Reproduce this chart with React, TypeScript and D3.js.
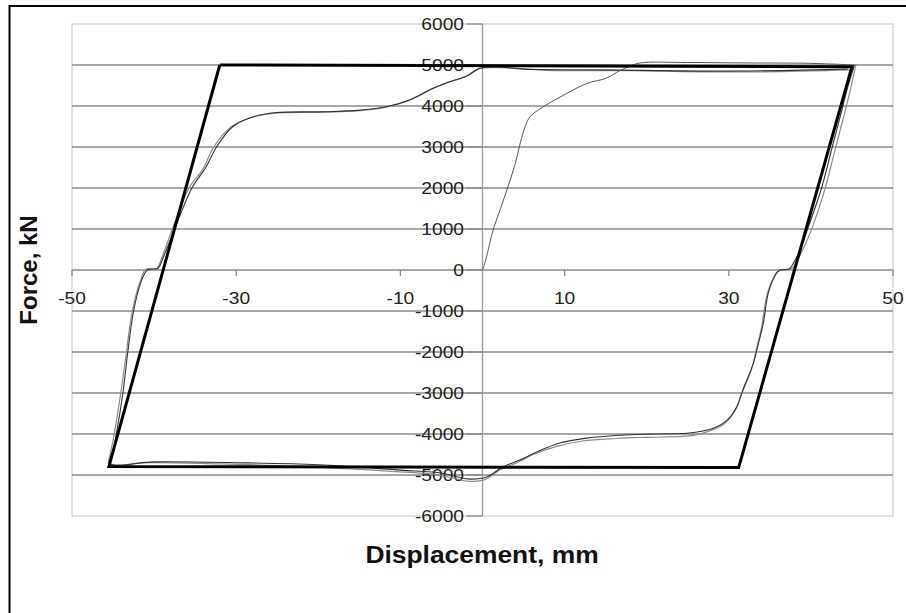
import * as d3 from 'd3'

// axis ticks
const dispTicks = [-50, -30, -10, 10, 30, 50]
const forceTicks = [-6000, -5000, -4000, -3000, -2000, -1000, 0, 1000, 2000, 3000, 4000, 5000, 6000]

// bilinear model (thick loop)
const modelDisp = [-32, 45, 31.2, -45.5, -32]
const modelForce = [5000, 4960, -4820, -4790, 5000]

// test: first loading from origin
const initDisp = [0, 0.4, 1.3, 2.2, 3.1, 4.0, 4.6, 5.2, 5.8, 7.4, 10.3, 12.7, 15.1, 16.7, 17.8, 19.2, 25, 32, 40, 45.3]
const initForce = [0, 250, 980, 1500, 2030, 2600, 3100, 3500, 3740, 3980, 4310, 4550, 4680, 4860, 4960, 5050, 5060, 5050, 5040, 5000]

// test: cycle 1
const cyc1Disp = [45.3, 45.0, 44.4, 43.9, 42.6, 41.3, 39.6, 38.7, 37.6, 37.3, 36.2, 35.6, 34.8, 34.2, 33.6, 33.0, 31.7, 31.0, 29.8, 28.1, 26.5, 24.9, 20.8, 16.7, 12.7, 9.4, 6.6, 4.6, 2.5, 0.5, -1.5, -3, -5, -10, -20, -30, -40, -45.3, -45.0, -44.6, -43.8, -43.2, -42.5, -41.5, -40.8, -39.5, -38.9, -37.5, -35.4, -33.7, -32.4, -30.4, -27.9, -25.1, -19, -14.9, -11.7, -8.8, -6, -4, -1.9, -0.3, 2, 5, 15, 30, 44.5]
const cyc1Force = [5000, 4800, 4400, 4000, 3000, 2000, 1000, 500, 80, 20, 0, -150, -570, -1300, -1800, -2270, -2930, -3330, -3660, -3860, -3940, -3980, -4000, -4030, -4100, -4220, -4440, -4630, -4800, -5050, -5100, -5050, -4950, -4880, -4750, -4700, -4680, -4720, -4400, -4000, -3000, -2000, -1000, -240, 0, 50, 300, 1000, 2000, 2500, 3000, 3500, 3740, 3840, 3860, 3900, 3980, 4150, 4430, 4590, 4730, 4920, 4950, 4900, 4880, 4850, 4900]

// test: cycle 2
const cyc2Disp = [45.5, 45.2, 44.7, 44.2, 42.9, 41.6, 39.9, 38.9, 37.8, 37.0, 36.0, 35.4, 34.6, 34.0, 33.4, 32.8, 31.5, 30.7, 29.4, 27.6, 26.0, 24.2, 20.2, 16.2, 12.2, 9.0, 6.2, 4.2, 2.1, 0.2, -1.8, -3.5, -6, -12, -22, -32, -41, -45.5, -45.3, -44.9, -44.1, -43.4, -42.7, -41.7, -41.0, -39.7, -39.1, -37.8, -35.8, -34.0, -32.8, -30.7, -28.2, -25.5, -19.5, -15.3, -12.0, -9.2, -6.4, -4.3, -2.2, -0.6, 3, 8, 18, 32, 45]
const cyc2Force = [5020, 4750, 4300, 3900, 2900, 1900, 900, 450, 60, 10, -30, -200, -650, -1400, -1900, -2400, -3050, -3450, -3760, -3930, -4020, -4060, -4080, -4110, -4170, -4300, -4500, -4700, -4880, -5120, -5150, -5080, -4980, -4900, -4790, -4730, -4700, -4760, -4450, -4050, -3050, -2050, -1050, -280, 20, 30, 280, 980, 1980, 2480, 2980, 3480, 3720, 3820, 3850, 3880, 3960, 4120, 4400, 4570, 4700, 4900, 4930, 4870, 4860, 4830, 4880]

const W = 906
const H = 613
const font = 'Liberation Sans, Arial, sans-serif'

export default function App() {
  const x = d3.scaleLinear().domain([-50, 50]).range([72, 893])
  const y = d3.scaleLinear().domain([-6000, 6000]).range([516, 24])

  const line = d3.line<[number, number]>()
    .x(d => x(d[0]))
    .y(d => y(d[1]))
  const smooth = d3.line<[number, number]>()
    .x(d => x(d[0]))
    .y(d => y(d[1]))
    .curve(d3.curveCatmullRom.alpha(0.5))
  const pts = (xs: number[], ys: number[]) => xs.map((v, i) => [v, ys[i]] as [number, number])

  const x0 = x(0)
  const y0 = y(0)

  return (
    <svg width={W} height={H} style={{ position: 'absolute', left: 0, top: 0, background: '#fff' }}>
      {/* outer frame */}
      <path d={`M9.5,${H + 5}V6H${W + 5}`} fill="none" stroke="#000" strokeWidth={2} />

      {/* plot border */}
      <rect x={x(-50)} y={y(6000)} width={x(50) - x(-50)} height={y(-6000) - y(6000)}
        fill="none" stroke="#cfcfcf" strokeWidth={1.2} />

      {/* gridlines */}
      {forceTicks.filter(t => Math.abs(t) < 6000).map(t => (
        <line key={t} x1={x(-50)} x2={x(50)} y1={y(t)} y2={y(t)} stroke="#8a8a8a" strokeWidth={1.3} />
      ))}

      {/* y axis at x = 0 */}
      <line x1={x0} x2={x0} y1={y(6000)} y2={y(-6000)} stroke="#9a9a9a" strokeWidth={1.3} />
      {forceTicks.map(t => (
        <line key={'yt' + t} x1={x0 - 16} x2={x0} y1={y(t)} y2={y(t)} stroke="#8a8a8a" strokeWidth={1.3} />
      ))}
      {forceTicks.map(t => (
        <text key={'yl' + t} transform={`translate(464,${y(t)}) scale(1.2,1)`} textAnchor="end" dy="0.36em"
          fontFamily={font} fontSize={16} fill="#222">{t}</text>
      ))}

      {/* x ticks and labels */}
      {dispTicks.map(t => (
        <line key={'xt' + t} x1={x(t)} x2={x(t)} y1={y0} y2={y0 + 6} stroke="#8a8a8a" strokeWidth={1.3} />
      ))}
      {dispTicks.map(t => (
        <text key={'xl' + t} transform={`translate(${x(t)},304) scale(1.2,1)`} textAnchor="middle"
          fontFamily={font} fontSize={16} fill="#222">{t}</text>
      ))}

      {/* test curves */}
      <path d={smooth(pts(cyc2Disp, cyc2Force)) ?? ''} fill="none" stroke="#8c8c8c" strokeWidth={1.2} />
      <path d={smooth(pts(cyc1Disp, cyc1Force)) ?? ''} fill="none" stroke="#333" strokeWidth={1.1} />
      <path d={smooth(pts(initDisp, initForce)) ?? ''} fill="none" stroke="#555" strokeWidth={1} />

      {/* model */}
      <path d={line(pts(modelDisp, modelForce)) ?? ''} fill="none" stroke="#000" strokeWidth={3} strokeLinejoin="miter" />

      {/* axis titles */}
      <text transform="translate(482,563) scale(1.1,1)" textAnchor="middle" fontFamily={font}
        fontWeight="bold" fontSize={24} fill="#111">Displacement, mm</text>
      <text transform="translate(37,270) rotate(-90)" textAnchor="middle" fontFamily={font}
        fontWeight="bold" fontSize={24} fill="#111">Force, kN</text>
    </svg>
  )
}
